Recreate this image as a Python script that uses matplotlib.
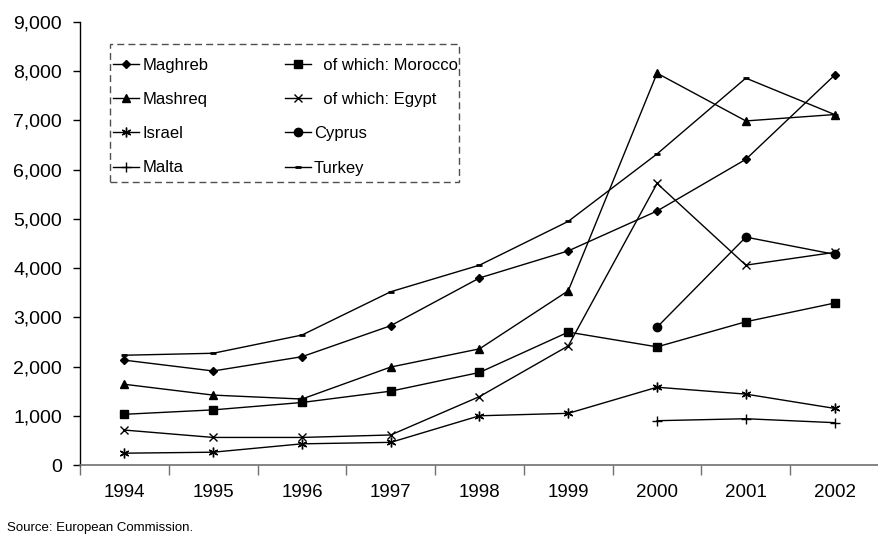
import numpy as np
import matplotlib
matplotlib.use("Agg")
import matplotlib.pyplot as plt
from matplotlib.patches import Rectangle
from matplotlib.ticker import FuncFormatter, FixedLocator

plt.rcParams['font.family'] = ['Liberation Sans', 'DejaVu Sans']

years = ['1994', '1995', '1996', '1997', '1998', '1999', '2000', '2001', '2002']
nan = np.nan

maghreb = [2130, 1910, 2200, 2830, 3800, 4350, 5160, 6210, 7920]
mashreq = [1640, 1420, 1340, 1990, 2360, 3540, 7960, 6990, 7120]
israel = [240, 260, 430, 460, 1000, 1050, 1580, 1440, 1150]
malta = [nan, nan, nan, nan, nan, nan, 900, 940, 860]
morocco = [1030, 1120, 1270, 1500, 1880, 2700, 2400, 2910, 3290]
egypt = [710, 560, 560, 610, 1390, 2420, 5720, 4060, 4320]
cyprus = [nan, nan, nan, nan, nan, nan, 2800, 4630, 4280]
turkey = [2230, 2270, 2640, 3520, 4060, 4950, 6320, 7860, 7120]

W, H = 879, 535
fig = plt.figure(figsize=(W / 100, H / 100), dpi=100)
ax = fig.add_axes([80 / W, 70 / H, 799 / W, 443 / H])

x = np.arange(len(years))
kw = dict(color='black', lw=1.0)
h_magh, = ax.plot(x, maghreb, marker='D', ms=4.5, label='Maghreb', **kw)
h_mash, = ax.plot(x, mashreq, marker='^', ms=6, label='Mashreq', **kw)
h_isr, = ax.plot(x, israel, marker=(6, 2, 0), ms=7, mew=1, label='Israel', **kw)
h_mal, = ax.plot(x, malta, marker='+', ms=7, mew=1, label='Malta', **kw)
h_mor, = ax.plot(x, morocco, marker='s', ms=5.5, label='  of which: Morocco', **kw)
h_egy, = ax.plot(x, egypt, marker='x', ms=6, mew=1, label='  of which: Egypt', **kw)
h_cyp, = ax.plot(x, cyprus, marker='o', ms=6, label='Cyprus', **kw)
h_tur, = ax.plot(x, turkey, marker='_', ms=4, mew=2, label='Turkey', **kw)

ax.set_ylim(0, 9000)
ax.set_xlim(-0.5, -0.5 + 799 / 89.5)
ax.yaxis.set_major_locator(FixedLocator(np.arange(0, 9001, 1000)))
ax.yaxis.set_major_formatter(FuncFormatter(lambda v, p: '{:,.0f}'.format(v)))
ax.tick_params(axis='y', direction='out', length=5, width=1, labelsize=14, pad=8)

# category labels centred, tick marks between categories
ax.set_xticks(x)
ax.set_xticklabels(years)
ax.tick_params(axis='x', which='major', length=0, labelsize=13.5, pad=14)
ax.set_xticks(np.arange(-0.5, 9.5, 1), minor=True)
ax.tick_params(axis='x', which='minor', direction='out', length=7, width=1, color='#707070')

for s in ['top', 'right']:
    ax.spines[s].set_visible(False)
ax.spines['bottom'].set_color('#707070')
ax.spines['bottom'].set_linewidth(1.2)
ax.spines['left'].set_linewidth(1.0)

def ax_pt(px, py):
    # pixel position in the figure -> axes fraction
    return (px - 80) / 799, (H - 70 - py) / 443

leg = ax.legend(handles=[h_magh, h_mash, h_isr, h_mal, h_mor, h_egy, h_cyp, h_tur],
                ncol=2, loc='upper left', bbox_to_anchor=ax_pt(113, 58),
                borderaxespad=0, borderpad=0, fontsize=12, handlelength=1.55,
                handletextpad=0.2, columnspacing=4.6, labelspacing=1.15,
                frameon=False)

# dashed box round the legend
x0, y0 = ax_pt(110, 182)
x1, y1 = ax_pt(459, 44)
ax.add_patch(Rectangle((x0, y0), x1 - x0, y1 - y0, transform=ax.transAxes,
                       fill=False, edgecolor='#505050', lw=1.0,
                       linestyle=(0, (5, 3)), clip_on=False, zorder=5))

fig.text(7 / W, 1 / H, 'Source: European Commission.', fontsize=9.5, ha='left', va='bottom')

fig.savefig('out.png', dpi=100)
